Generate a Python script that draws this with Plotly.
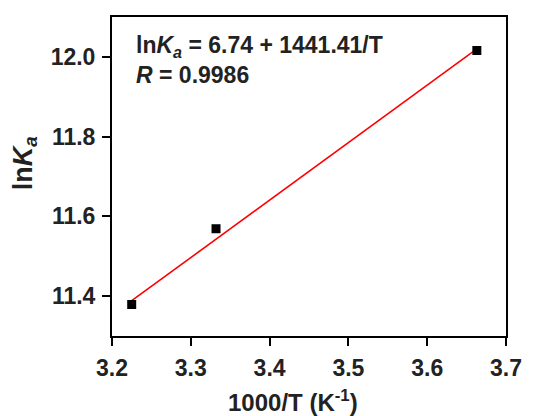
import plotly.graph_objects as go

inv_T = [3.225, 3.332, 3.663]
ln_Ka = [11.379, 11.569, 12.016]
fit_intercept = 6.74
fit_slope = 1.44141  # 1441.41/T with x = 1000/T
fit_x = [3.225, 3.663]
fit_y = [fit_intercept + fit_slope * x for x in fit_x]

x_ticks = [3.2, 3.3, 3.4, 3.5, 3.6, 3.7]
y_ticks = [11.4, 11.6, 11.8, 12.0]

FONT = "Liberation Sans, Arial, sans-serif"
INK = "#222"

fig = go.Figure()
fig.add_trace(go.Scatter(x=fit_x, y=fit_y, mode="lines",
                         line=dict(color="#ff0000", width=1.6), showlegend=False))
fig.add_trace(go.Scatter(x=inv_T, y=ln_Ka, mode="markers",
                         marker=dict(symbol="square", size=9, color="black"),
                         showlegend=False))

axis_common = dict(showline=True, linecolor="black", linewidth=2, mirror=True,
                   ticks="outside", ticklen=8, tickwidth=2, tickcolor="black",
                   showgrid=False, zeroline=False,
                   tickfont=dict(family=FONT, size=23, color=INK, weight="bold"))

fig.update_xaxes(range=[3.2, 3.7], tickvals=x_ticks,
                 ticktext=[f"{v:.1f}" for v in x_ticks],
                 ticklabelstandoff=2, **axis_common)
fig.update_yaxes(range=[11.3, 12.1], tickvals=y_ticks,
                 ticktext=[f"{v:.1f}" for v in y_ticks],
                 ticklabelstandoff=2, **axis_common)

# axis titles (placed as annotations to match the reference's offsets)
fig.add_annotation(x=0.46, y=-0.205, xref="paper", yref="paper",
                   xanchor="center", yanchor="middle", showarrow=False,
                   text="<b>1000/T (K<sup>-1</sup>)</b>",
                   font=dict(family=FONT, size=24, color=INK))
fig.add_annotation(x=-0.222, y=0.54, xref="paper", yref="paper",
                   xanchor="center", yanchor="middle", showarrow=False, textangle=-90,
                   text="<b>ln<i>K</i><sub><i>a</i></sub></b>",
                   font=dict(family=FONT, size=27, color=INK))

fig.add_annotation(x=0.055, y=0.96, xref="paper", yref="paper", xanchor="left", yanchor="top",
                   text="<b>ln<i>K</i><sub><i>a</i></sub> = 6.74 + 1441.41/T</b><br><b><i>R</i> = 0.9986</b>",
                   showarrow=False, align="left",
                   font=dict(family=FONT, size=23, color=INK))

# page body has an 8px margin: shrink the figure so the plot box lands where the reference has it
fig.update_layout(width=531, height=408,
                  margin=dict(l=104, r=33, t=7, b=80),
                  paper_bgcolor="white", plot_bgcolor="white")

fig.write_html("out.html")
